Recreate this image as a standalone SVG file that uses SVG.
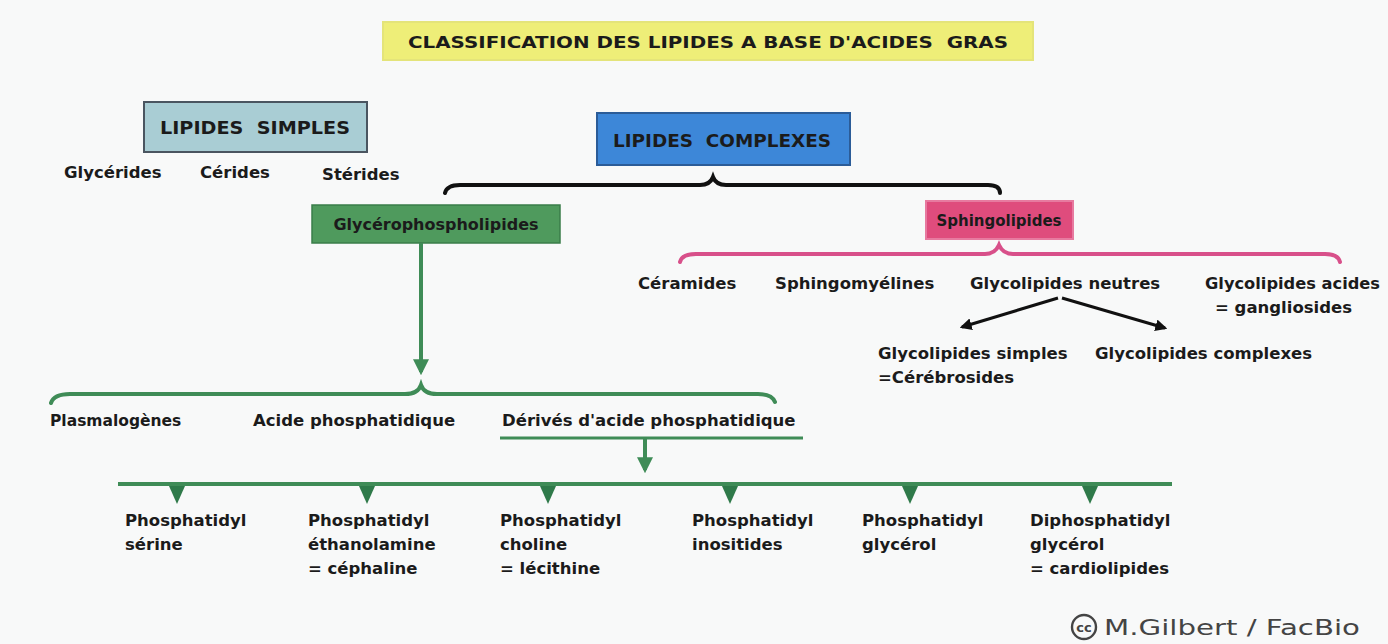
<svg xmlns="http://www.w3.org/2000/svg" width="1388" height="644" viewBox="0 0 1388 644">
<defs>
<style>
text{font-family:"DejaVu Sans","Noto Sans",sans-serif;font-weight:bold;fill:#1b1b1b;font-size:16.5px}
.c{text-anchor:middle}
.g{fill:none;stroke:#3f8c57;stroke-width:4;stroke-linecap:round}
.k{fill:none;stroke:#111;stroke-width:4;stroke-linecap:round}
.p{fill:none;stroke:#d8508a;stroke-width:4;stroke-linecap:round}
.tri{fill:#2f7a4a}
</style>
<marker id="ag" viewBox="0 0 10 10" refX="8" refY="5" markerWidth="4" markerHeight="4" orient="auto-start-reverse"><path d="M0,0 L10,5 L0,10 z" fill="#3f8c57"/></marker>
<marker id="ak" viewBox="0 0 10 10" refX="8" refY="5" markerWidth="4" markerHeight="4" orient="auto"><path d="M0,0 L10,5 L0,10 z" fill="#111"/></marker>
</defs>
<rect width="1388" height="644" fill="#f8f9f9"/>

<g id="title">
<rect x="383" y="22" width="650" height="38" fill="#eeee78" stroke="#e4e47a" stroke-width="2"/>
<text class="c" x="708" y="48" xml:space="preserve" textLength="600" lengthAdjust="spacingAndGlyphs" style="font-size:16px">CLASSIFICATION DES LIPIDES A BASE D'ACIDES  GRAS</text>
</g>

<g id="lipides-simples">
<rect x="144" y="102" width="223" height="50" fill="#a9cdd4" stroke="#4a5560" stroke-width="2"/>
<text class="c" x="255" y="134" xml:space="preserve" style="font-size:18px" textLength="190" lengthAdjust="spacingAndGlyphs">LIPIDES  SIMPLES</text>
</g>
<g id="glycerides"><text x="64" y="178">Glycérides</text></g>
<g id="cerides"><text x="200" y="178">Cérides</text></g>
<g id="sterides"><text x="322" y="180">Stérides</text></g>

<g id="lipides-complexes">
<rect x="597" y="113" width="253" height="52" fill="#3d87d8" stroke="#2b5c98" stroke-width="2"/>
<text class="c" x="722" y="147" xml:space="preserve" style="font-size:18px" textLength="218" lengthAdjust="spacingAndGlyphs">LIPIDES  COMPLEXES</text>
</g>

<g id="glycerophospholipides">
<rect x="312" y="205" width="248" height="38" fill="#4f9a5d" stroke="#3a7d4a" stroke-width="1.5"/>
<text class="c" x="436" y="230" style="font-size:16px">Glycérophospholipides</text>
</g>

<g id="sphingolipides">
<rect x="926" y="201" width="147" height="38" fill="#df4c7d" stroke="#e77aa0" stroke-width="2"/>
<text class="c" x="999" y="226" style="font-size:15px">Sphingolipides</text>
</g>

<g id="ceramides"><text x="638" y="289">Céramides</text></g>
<g id="sphingomyelines"><text x="775" y="289">Sphingomyélines</text></g>
<g id="glycolipides-neutres"><text x="970" y="289">Glycolipides neutres</text></g>
<g id="glycolipides-acides"><text x="1205" y="289" textLength="175" lengthAdjust="spacingAndGlyphs">Glycolipides acides</text><text x="1215" y="313">= gangliosides</text></g>
<g id="glycolipides-simples"><text x="878" y="359">Glycolipides simples</text><text x="878" y="383">=Cérébrosides</text></g>
<g id="glycolipides-complexes"><text x="1095" y="359">Glycolipides complexes</text></g>

<g id="plasmalogenes"><text x="50" y="426" style="font-size:15.5px">Plasmalogènes</text></g>
<g id="acide-phosphatidique"><text x="253" y="426">Acide phosphatidique</text></g>
<g id="derives"><text x="502" y="426">Dérivés d'acide phosphatidique</text></g>

<g id="ps"><text x="125" y="526">Phosphatidyl</text><text x="125" y="550">sérine</text></g>
<g id="pe"><text x="308" y="526">Phosphatidyl</text><text x="308" y="550">éthanolamine</text><text x="308" y="574">= céphaline</text></g>
<g id="pc"><text x="500" y="526">Phosphatidyl</text><text x="500" y="550">choline</text><text x="500" y="574">= lécithine</text></g>
<g id="pi"><text x="692" y="526">Phosphatidyl</text><text x="692" y="550">inositides</text></g>
<g id="pg"><text x="862" y="526">Phosphatidyl</text><text x="862" y="550">glycérol</text></g>
<g id="dpg"><text x="1030" y="526">Diphosphatidyl</text><text x="1030" y="550">glycérol</text><text x="1030" y="574">= cardiolipides</text></g>

<g id="credit">
<circle cx="1084" cy="627" r="12" fill="none" stroke="#444" stroke-width="2.4"/>
<text class="c" x="1084" y="632" style="font-size:13px;fill:#444;font-weight:bold">cc</text>
<text x="1104" y="635" style="font-size:21px;fill:#444;font-weight:normal" textLength="256" lengthAdjust="spacingAndGlyphs">M.Gilbert / FacBio</text>
</g>

<g id="connectors">
<path class="k" d="M445,193 Q447,185 460,185 L700,185 Q710,185 713,177 Q716,185 726,185 L988,185 Q1000,185 1000,193"/>
<path class="p" d="M680,262 Q682,254 696,254 L985,254 Q995,254 999,245 Q1003,254 1013,254 L1325,254 Q1338,254 1340,262"/>
<path class="g" d="M51,403 Q54,394 70,394 L405,394 Q418,394 421,385 Q424,394 437,394 L758,394 Q772,394 775,402"/>
<line x1="421" y1="243" x2="421" y2="372" stroke="#3f8c57" stroke-width="4" marker-end="url(#ag)"/>
<line x1="500" y1="438" x2="803" y2="438" stroke="#3f8c57" stroke-width="3"/>
<line x1="645" y1="438" x2="645" y2="470" stroke="#3f8c57" stroke-width="4" marker-end="url(#ag)"/>
<line x1="118" y1="484" x2="1172" y2="484" stroke="#3f8c57" stroke-width="4"/>
<path class="tri" d="M169,486 L185,486 L177,504 z"/>
<path class="tri" d="M359,486 L375,486 L367,504 z"/>
<path class="tri" d="M540,486 L556,486 L548,504 z"/>
<path class="tri" d="M722,486 L738,486 L730,504 z"/>
<path class="tri" d="M902,486 L918,486 L910,504 z"/>
<path class="tri" d="M1082,486 L1098,486 L1090,504 z"/>
<line x1="1058" y1="298" x2="962" y2="327" stroke="#111" stroke-width="3" marker-end="url(#ak)"/>
<line x1="1062" y1="298" x2="1165" y2="328" stroke="#111" stroke-width="3" marker-end="url(#ak)"/>
</g>
</svg>
